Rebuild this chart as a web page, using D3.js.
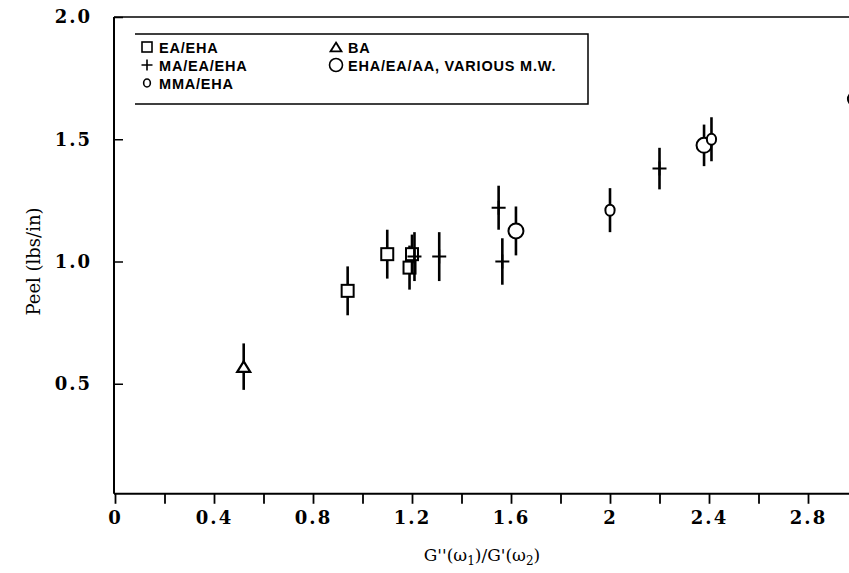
<!DOCTYPE html>
<html>
<head>
<meta charset="utf-8">
<script src="https://cdn.jsdelivr.net/npm/d3@7"></script>
<style>
  html, body { margin: 0; padding: 0; background: #fff; }
  svg { display: block; }
</style>
</head>
<body>
<div id="chart"></div>
<script>
// ---- data ----
// EA/EHA (squares)
const squareX = [0.94, 1.10, 1.19, 1.20];
const squareY = [0.88, 1.03, 0.975, 1.03];
const squareErr = [0.10, 0.10, 0.09, 0.08];
// MA/EA/EHA (plus)
const plusX = [1.21, 1.31, 1.55, 1.565, 2.20];
const plusY = [1.02, 1.02, 1.22, 1.00, 1.38];
const plusErr = [0.10, 0.10, 0.09, 0.095, 0.085];
// MMA/EHA (small circles)
const smallX = [2.00, 2.41, 2.98];
const smallY = [1.21, 1.50, 1.665];
const smallErr = [0.09, 0.09, 0.09];
// BA (triangle)
const triX = [0.52];
const triY = [0.57];
const triErr = [0.095];
// EHA/EA/AA, various M.W. (big circles)
const bigX = [1.62, 2.38];
const bigY = [1.125, 1.475];
const bigErr = [0.10, 0.085];

const xTicks = [0, 0.2, 0.4, 0.6, 0.8, 1.0, 1.2, 1.4, 1.6, 1.8, 2.0, 2.2, 2.4, 2.6, 2.8];
const xLabels = ["0", "", "0.4", "", "0.8", "", "1.2", "", "1.6", "", "2", "", "2.4", "", "2.8"];
const yTicks = [0.5, 1.0, 1.5, 2.0];
const yLabels = ["0.5", "1.0", "1.5", "2.0"];

const legendRows = [
  { shape: "square", label: "EA/EHA", col: 0, row: 0 },
  { shape: "plus", label: "MA/EA/EHA", col: 0, row: 1 },
  { shape: "small", label: "MMA/EHA", col: 0, row: 2 },
  { shape: "tri", label: "BA", col: 1, row: 0 },
  { shape: "big", label: "EHA/EA/AA, VARIOUS M.W.", col: 1, row: 1 }
];

const width = 849, height = 573;
const margin = { top: 17, left: 114 };
const axisFloor = 0.05; // where the x axis sits on the peel scale

const svg = d3.select("#chart").append("svg")
  .attr("width", width).attr("height", height);

const xScale = d3.scaleLinear().domain([0, 3]).range([115, 857.5]);
const yScale = d3.scaleLinear().domain([0, 2]).range([506, 17]);
const axisY = yScale(axisFloor);

const serif = "'DejaVu Serif', serif";
const sans = "'Liberation Sans', Arial, sans-serif";

// frame: left axis line and top line
svg.append("line")
  .attr("x1", margin.left).attr("x2", margin.left)
  .attr("y1", margin.top).attr("y2", axisY)
  .attr("stroke", "#000").attr("stroke-width", 2);
svg.append("line")
  .attr("x1", margin.left).attr("x2", width)
  .attr("y1", margin.top).attr("y2", margin.top)
  .attr("stroke", "#000").attr("stroke-width", 1.6);

// x axis
const xAxis = svg.append("g")
  .attr("transform", `translate(0,${axisY})`)
  .call(d3.axisBottom(xScale)
    .tickValues(xTicks)
    .tickSizeInner(10)
    .tickSizeOuter(0)
    .tickPadding(7)
    .tickFormat((d, i) => xLabels[i]));
xAxis.select(".domain").attr("stroke-width", 2).attr("d", `M${margin.left},0H${width}`);
xAxis.selectAll(".tick line").attr("stroke-width", 1.8);
xAxis.selectAll("text")
  .attr("font-family", serif).attr("font-weight", "bold")
  .attr("font-size", 18).attr("letter-spacing", 2).attr("fill", "#000");

// y axis (ticks point inward)
const yAxis = svg.append("g")
  .attr("transform", `translate(${margin.left},0)`)
  .call(d3.axisLeft(yScale)
    .tickValues(yTicks)
    .tickSizeInner(-9)
    .tickSizeOuter(0)
    .tickPadding(22)
    .tickFormat((d, i) => yLabels[i]));
yAxis.select(".domain").remove();
yAxis.selectAll(".tick line").attr("stroke-width", 1.5);
yAxis.selectAll("text")
  .attr("font-family", serif).attr("font-weight", "bold")
  .attr("font-size", 18).attr("letter-spacing", 2).attr("fill", "#000");

// axis titles
svg.append("text")
  .attr("transform", `translate(40,${yScale(1.0)}) rotate(-90)`)
  .attr("text-anchor", "middle")
  .attr("font-family", serif).attr("font-size", 18)
  .text("Peel (lbs/in)");

const xt = svg.append("text")
  .attr("x", 482).attr("y", 561)
  .attr("text-anchor", "middle")
  .attr("font-family", serif).attr("font-size", 17);
xt.append("tspan").text("G''(ω");
xt.append("tspan").attr("dy", 4).attr("font-size", 12).text("1");
xt.append("tspan").attr("dy", -4).text(")/G'(ω");
xt.append("tspan").attr("dy", 4).attr("font-size", 12).text("2");
xt.append("tspan").attr("dy", -4).text(")");

// marker drawing
function drawMarker(g, shape, cx, cy, s, sw) {
  sw = sw || 2;
  if (shape === "square") {
    g.append("rect").attr("x", cx - s / 2).attr("y", cy - s / 2)
      .attr("width", s).attr("height", s)
      .attr("fill", "#fff").attr("stroke", "#000").attr("stroke-width", sw);
  } else if (shape === "plus") {
    g.append("path").attr("d", `M${cx - s / 2},${cy}H${cx + s / 2}M${cx},${cy - s / 2}V${cy + s / 2}`)
      .attr("stroke", "#000").attr("stroke-width", sw).attr("fill", "none");
  } else if (shape === "small") {
    g.append("ellipse").attr("cx", cx).attr("cy", cy).attr("rx", s * 0.42).attr("ry", s / 2)
      .attr("fill", "#fff").attr("stroke", "#000").attr("stroke-width", sw);
  } else if (shape === "big") {
    g.append("circle").attr("cx", cx).attr("cy", cy).attr("r", s / 2)
      .attr("fill", "#fff").attr("stroke", "#000").attr("stroke-width", sw);
  } else if (shape === "tri") {
    const h = s * 0.8;
    g.append("path").attr("d", `M${cx},${cy - h / 2}L${cx + s / 2},${cy + h / 2}L${cx - s / 2},${cy + h / 2}Z`)
      .attr("fill", "#fff").attr("stroke", "#000").attr("stroke-width", sw + 0.2);
  }
}

const series = [
  { shape: "tri", xs: triX, ys: triY, err: triErr, size: 13 },
  { shape: "square", xs: squareX, ys: squareY, err: squareErr, size: 12 },
  { shape: "plus", xs: plusX, ys: plusY, err: plusErr, size: 14 },
  { shape: "big", xs: bigX, ys: bigY, err: bigErr, size: 15 },
  { shape: "small", xs: smallX, ys: smallY, err: smallErr, size: 11 }
];

const plot = svg.append("g").attr("class", "points");
series.forEach(s => {
  s.xs.forEach((xv, i) => {
    const cx = xScale(xv), cy = yScale(s.ys[i]);
    // error bar
    plot.append("line")
      .attr("x1", cx).attr("x2", cx)
      .attr("y1", yScale(s.ys[i] + s.err[i]))
      .attr("y2", yScale(s.ys[i] - s.err[i]))
      .attr("stroke", "#000").attr("stroke-width", 2.6);
    drawMarker(plot, s.shape, cx, cy, s.size);
  });
});

// legend
const lg = svg.append("g").attr("class", "legend");
const lgTop = 34, lgBottom = 104, lgLeft = 135, lgRight = 588;
lg.append("path")
  .attr("d", `M${lgLeft},${lgTop}H${lgRight}V${lgBottom}H${lgLeft}`)
  .attr("fill", "none").attr("stroke", "#000").attr("stroke-width", 1.5);
const colX = [147, 336];
const rowY = [47, 65, 83];
const legendSize = { square: 10, plus: 11, small: 8, tri: 11, big: 13 };
legendRows.forEach(r => {
  const cx = colX[r.col], cy = rowY[r.row];
  drawMarker(lg, r.shape, cx, cy, legendSize[r.shape], 1.6);
  lg.append("text")
    .attr("x", cx + 12).attr("y", cy + 5.5)
    .attr("font-family", sans).attr("font-weight", "bold")
    .attr("font-size", 14.5).attr("letter-spacing", 0.8)
    .text(r.label);
});
</script>
</body>
</html>
